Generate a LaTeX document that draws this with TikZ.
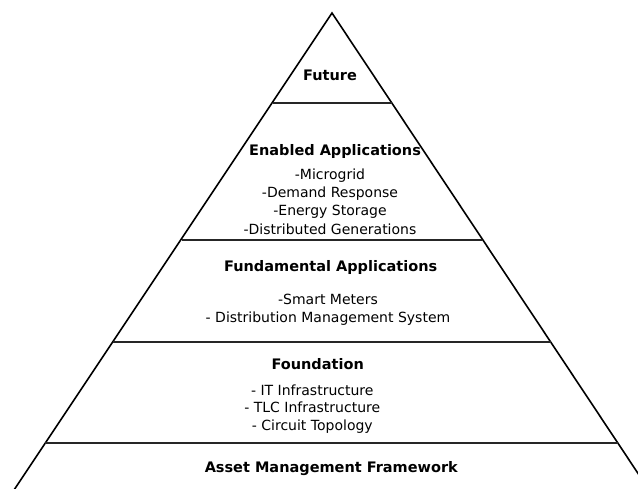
\documentclass[tikz,border=0pt]{standalone}
\usepackage{fontspec}
\setmainfont{DejaVu Sans}
\begin{document}
\begin{tikzpicture}[x=1pt,y=-1pt,
  edge/.style={line width=1.6pt,black},
  tier/.style={line width=1.8pt,black!85},
  ttl/.style={font=\fontsize{14.5}{16}\selectfont\bfseries,inner sep=0pt},
  lst/.style={font=\fontsize{14}{18.3}\selectfont,align=center,inner sep=0pt}]
\useasboundingbox (0,0) rectangle (638,489);
\begin{scope}
\clip (0,0) rectangle (638,489);
\draw[edge,line join=miter] (-6,520) -- (332,13) -- (669,520);
\end{scope}
\draw[tier] (273,102.7) -- (391.7,102.7);
\draw[tier] (181.7,240) -- (482.3,240);
\draw[tier] (113.3,342.3) -- (551,342.3);
\draw[tier] (45,443.3) -- (617.7,443.3);
\node[ttl] (fut) at (330,75) {Future};
\node[ttl] (ena) at (335,151.5) {Enabled Applications};
\node[lst] (enal) at (330,201.5) {-Microgrid\\-Demand Response\\-Energy Storage\\-Distributed Generations};
\node[ttl] (fun) at (330.7,267.3) {Fundamental Applications};
\node[lst,font=\fontsize{14}{17.6}\selectfont] (funl) at (328,309.5) {-Smart Meters\\- Distribution Management System};
\node[ttl] (fou) at (317.7,364) {Foundation};
\node[lst,font=\fontsize{14}{17.8}\selectfont] (foul) at (312.3,409) {- IT Infrastructure\\- TLC Infrastructure\\- Circuit Topology};
\node[ttl] (ast) at (331.3,469) {Asset Management Framework};
\end{tikzpicture}
\end{document}
